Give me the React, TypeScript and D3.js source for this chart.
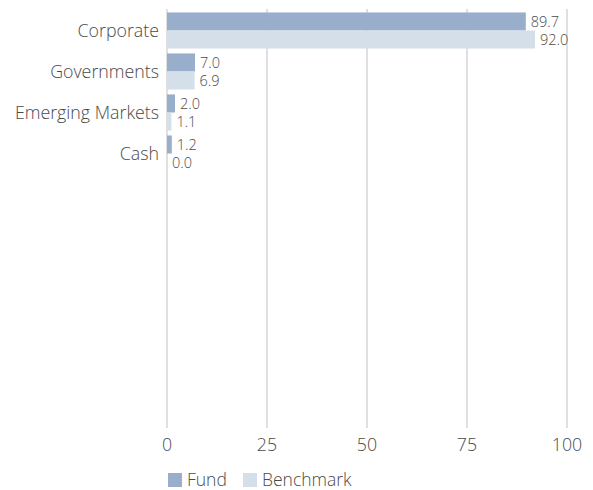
import React from 'react';
import * as d3 from 'd3';

const categories = ['Corporate', 'Governments', 'Emerging Markets', 'Cash'];
const fundValues = [89.7, 7.0, 2.0, 1.2];
const benchmarkValues = [92.0, 6.9, 1.1, 0.0];
const seriesNames = ['Fund', 'Benchmark'];
const xTicks = [0, 25, 50, 75, 100];

const width = 593;
const height = 490;
const colors = ['#98aecb', '#d4dfea'];
const textColor = '#4a4a4a';
const font = "'Open Sans', sans-serif";

const App: React.FC = () => {
    const x = d3.scaleLinear().domain([0, 100]).range([167, 567]);
    const y = d3.scaleBand<string>()
        .domain(categories)
        .range([10, 10 + 41 * categories.length])
        .paddingInner(0.12)
        .paddingOuter(0.06);
    const sub = d3.scaleBand<string>().domain(seriesNames).range([0, y.bandwidth()]);
    const series = [fundValues, benchmarkValues];
    const legendX = [168, 243];

    return (
        <svg width={width} height={height} style={{ position: 'absolute', left: 0, top: 0, fontFamily: font, fontWeight: 300 }}>
            {xTicks.map(t => (
                <g key={t}>
                    <line x1={x(t)} x2={x(t)} y1={9} y2={428} stroke="#cccccc" strokeWidth={1.2} />
                    <text x={x(t)} y={451} textAnchor="middle" fontSize={17.8} fill={textColor}>{t}</text>
                </g>
            ))}
            {categories.map((c, i) => (
                <g key={c} transform={`translate(0,${y(c)})`}>
                    <text x={159} y={y.bandwidth() / 2} dy="0.35em" textAnchor="end" fontSize={17.8} fill={textColor}>{c}</text>
                    {series.map((vals, s) => (
                        <g key={s}>
                            <rect x={x(0)} y={sub(seriesNames[s])} width={x(vals[i]) - x(0)} height={sub.bandwidth()} fill={colors[s]} />
                            <text x={x(vals[i]) + 5} y={sub(seriesNames[s])! + sub.bandwidth() / 2} dy="0.38em" fontSize={14.5} fill={textColor}>
                                {vals[i].toFixed(1)}
                            </text>
                        </g>
                    ))}
                </g>
            ))}
            {seriesNames.map((n, s) => (
                <g key={n} transform={`translate(${legendX[s]},473)`}>
                    <rect width={14} height={14} fill={colors[s]} />
                    <text x={19} y={7} dy="0.36em" fontSize={17.5} fill={textColor}>{n}</text>
                </g>
            ))}
        </svg>
    );
};

export default App;
